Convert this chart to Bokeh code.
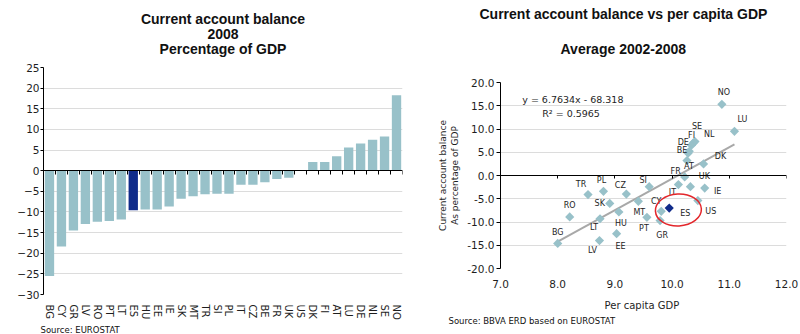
import math
from bokeh.plotting import figure
from bokeh.layouts import row
from bokeh.models import (ColumnDataSource, FixedTicker, LinearAxis, Range1d,
                          NumeralTickFormatter, Title, Label, CustomJSTickFormatter)
from bokeh.embed import file_html
from bokeh.resources import INLINE
from bokeh.core.properties import value

# ---------------- data ----------------
bar_countries = ["BG", "CY", "GR", "LV", "RO", "PT", "LT", "ES", "HU", "EE", "IE", "SK", "MT", "TR", "SI",
                 "PL", "IT", "CZ", "BE", "FR", "UK", "US", "DK", "FI", "AT", "LU", "DE", "NL", "SE", "NO"]
bar_values = [-25.5, -18.4, -14.5, -12.9, -12.4, -12.2, -11.8, -9.6, -9.4, -9.4, -8.7, -6.8, -6.2, -5.7, -5.6,
              -5.6, -3.4, -3.4, -2.8, -2.0, -1.7, 0.0, 2.1, 2.1, 3.5, 5.6, 6.6, 7.5, 8.3, 18.3]
highlight = "ES"
bar_yticks = list(range(-30, 26, 5))

sc_countries = ["BG", "RO", "TR", "PL", "SK", "LT", "LV", "HU", "EE", "CZ", "MT", "SI", "PT", "CY", "GR",
                "ES", "IT", "FR", "UK", "IE", "US", "NO", "LU", "SE", "NL", "FI", "DE", "BE", "AT", "DK"]
sc_gdp = [8.00, 8.21, 8.53, 8.80, 8.91, 8.74, 8.73, 9.07, 9.03, 9.20, 9.41, 9.60, 9.56, 9.81, 9.79,
          9.95, 10.11, 10.22, 10.32, 10.57, 10.45, 10.87, 11.09, 10.40, 10.37, 10.34, 10.30, 10.28, 10.26, 10.55]
sc_ca = [-14.6, -8.9, -4.1, -3.4, -6.0, -9.3, -14.0, -7.85, -12.5, -4.0, -5.55, -2.4, -9.0, -7.7, -9.7,
         -7.0, -1.95, -0.3, -2.4, -2.7, -5.4, 15.3, 9.5, 7.3, 7.0, 6.5, 5.2, 4.8, 3.2, 2.5]
trend_slope = 6.7634
trend_intercept = -68.318
trend_r2 = 0.5965
sc_xticks = [7, 8, 9, 10, 11, 12]
sc_yticks = list(range(-20, 21, 5))

# label placement (screen px offsets of each country label from its point)
label_dx = [0, 0, -7, -2, -10, -6, -7, 2, 4, -6, 1, -6, -3, -5, 2,
            16, -6, -9, 14, 13, 13, 2, 8, 2, 16, 0, -6, -6, 2, 17]
label_dy = [-11, -11, -10, -11, 0, 9, 10, 11, 13, -9, 11, -6, 11, -10, 15,
            5, 8, -5, -10, 3, 11, -12, -12, -15, -8, -10, -9, -3, 6, -7]

# ---------------- styles ----------------
TEAL = "#98C1C9"
NAVY = "#102B8A"
GRID = "#DCDCDC"
TXT = "#1E1E1E"
TITLE_FONT = "Liberation Sans"
FONT = "DejaVu Sans"
BLANK = CustomJSTickFormatter(code="return ''")


def title(text, size="14px", bold=True, align="center", offset=0, standoff=0, font=TITLE_FONT):
    return Title(text=text, align=align, offset=offset, standoff=standoff,
                 text_font=font, text_font_size=size,
                 text_font_style="bold" if bold else "normal", text_color="#111111")


def spacer(at, gap):
    # invisible axis used only to reserve vertical space between frame and titles
    return LinearAxis(ticker=FixedTicker(ticks=[at]), formatter=BLANK,
                      axis_line_color=None, major_tick_line_color="white",
                      major_tick_in=0, major_tick_out=gap, minor_tick_line_color=None,
                      major_label_standoff=0, major_label_text_font_size="1px",
                      major_label_text_color=None)


# ---------------- left: bar chart ----------------
n = len(bar_countries)
centers = [i + 0.5 for i in range(n)]
bar_src = ColumnDataSource(dict(
    x=centers, c=bar_countries, v=bar_values,
    col=[NAVY if c == highlight else TEAL for c in bar_countries]))

p1 = figure(width=415, height=334, title=None,
            x_range=Range1d(0, n),
            y_range=Range1d(bar_yticks[0], bar_yticks[-1]),
            output_backend="svg", toolbar_location=None,
            min_border_left=43, min_border_right=13, min_border_top=67, min_border_bottom=37)
p1.frame_align = False
p1.outline_line_color = None
p1.vbar(x="x", top="v", width=0.78, fill_color="col", line_color=None, source=bar_src)

xa = p1.xaxis[0]
xa.ticker = FixedTicker(ticks=centers)
xa.major_label_overrides = {cx: c for cx, c in zip(centers, bar_countries)}
xa.axis_line_color = None
xa.major_tick_line_color = None
xa.minor_tick_line_color = None
xa.major_label_orientation = "vertical"
xa.major_label_text_font = FONT
xa.major_label_text_font_size = "10px"
xa.major_label_text_color = TXT
xa.major_label_standoff = 4

ya = p1.yaxis[0]
ya.ticker = FixedTicker(ticks=bar_yticks)
ya.axis_line_color = "black"
ya.major_tick_line_color = "black"
ya.major_tick_in = 0
ya.major_tick_out = 3
ya.minor_tick_line_color = None
ya.major_label_text_font = FONT
ya.major_label_text_font_size = "10.5px"
ya.major_label_text_color = TXT
ya.major_label_standoff = 1

p1.xgrid.visible = False
p1.ygrid.grid_line_color = GRID
p1.ygrid.ticker = FixedTicker(ticks=bar_yticks)

zero_axis = LinearAxis(fixed_location=0,
                       ticker=FixedTicker(ticks=list(range(n + 1))), formatter=BLANK,
                       major_tick_in=0, major_tick_out=4,
                       minor_tick_line_color=None, axis_line_color="black",
                       major_tick_line_color="black")
p1.add_layout(zero_axis, "below")

p1.add_layout(spacer(n / 2, 11), "above")
p1.add_layout(title("Percentage of GDP"), "above")
p1.add_layout(title("2008"), "above")
p1.add_layout(title("Current account balance"), "above")
p1.add_layout(title("Source: EUROSTAT", size="8.5px", bold=False, align="left", offset=-3,
                    font=FONT), "below")

# ---------------- right: scatter ----------------
sc_src = ColumnDataSource(dict(
    c=sc_countries, x=sc_gdp, y=sc_ca, dx=label_dx, dy=label_dy,
    col=[NAVY if c == highlight else TEAL for c in sc_countries]))

p2 = figure(width=385, height=334, title=None,
            x_range=Range1d(sc_xticks[0], sc_xticks[-1]),
            y_range=Range1d(sc_yticks[0], sc_yticks[-1]),
            output_backend="svg", toolbar_location=None,
            min_border_left=85, min_border_right=14, min_border_top=82, min_border_bottom=66)
p2.frame_align = False
p2.outline_line_color = None
p2.xgrid.visible = False
p2.ygrid.grid_line_color = GRID
p2.ygrid.ticker = FixedTicker(ticks=sc_yticks)

xa2 = p2.xaxis[0]
xa2.ticker = FixedTicker(ticks=sc_xticks)
xa2.formatter = NumeralTickFormatter(format="0.0")
xa2.axis_line_color = None
xa2.major_tick_line_color = None
xa2.minor_tick_line_color = None
xa2.major_label_text_font = FONT
xa2.major_label_text_font_size = "10.5px"
xa2.major_label_text_color = TXT
xa2.major_label_standoff = 5
xa2.axis_label = "Per capita  GDP"
xa2.axis_label_standoff = 9
xa2.axis_label_text_font = FONT
xa2.axis_label_text_font_size = "10px"
xa2.axis_label_text_font_style = "normal"
xa2.axis_label_text_color = TXT

zero2 = LinearAxis(fixed_location=0, ticker=FixedTicker(ticks=sc_xticks), formatter=BLANK,
                   major_tick_in=0, major_tick_out=3,
                   minor_tick_line_color=None, axis_line_color="black", major_tick_line_color="black")
p2.add_layout(zero2, "below")

ya2 = p2.yaxis[0]
ya2.ticker = FixedTicker(ticks=sc_yticks)
ya2.formatter = NumeralTickFormatter(format="0.0")
ya2.axis_line_color = "black"
ya2.major_tick_line_color = "black"
ya2.major_tick_in = 0
ya2.major_tick_out = 4
ya2.minor_tick_line_color = None
ya2.major_label_text_font = FONT
ya2.major_label_text_font_size = "10.5px"
ya2.major_label_text_color = TXT
ya2.major_label_standoff = 2
ya2.axis_label = "Current account balance\nAs percentage of GDP"
ya2.axis_label_text_font = FONT
ya2.axis_label_text_font_size = "9px"
ya2.axis_label_text_font_style = "normal"
ya2.axis_label_text_color = TXT
ya2.axis_label_standoff = 4

# trend line from regression coefficients
tx = [min(sc_gdp), max(sc_gdp)]
ty = [trend_slope * v + trend_intercept for v in tx]
p2.line(tx, ty, line_color="#A8A8A8", line_width=2)

p2.scatter(x="x", y="y", marker="square", size=6.5, angle=math.pi / 4,
           fill_color="col", line_color=None, source=sc_src)
p2.text(x="x", y="y", text="c", x_offset="dx", y_offset="dy", source=sc_src,
        text_align="center", text_baseline="middle", text_font=value(FONT),
        text_font_size="8px", text_color=TXT)

es_i = sc_countries.index(highlight)
p2.ellipse(x=[sc_gdp[es_i] + 0.16], y=[sc_ca[es_i] - 0.41], width=46, height=32,
           width_units="screen", height_units="screen", angle=0.05,
           fill_color=None, line_color="#E3262B", line_width=1.5)

p2.add_layout(Label(x=7.38, y=16.4, text=f"y = {trend_slope}x - {abs(trend_intercept)}",
                    text_align="left", text_baseline="middle", text_font=FONT,
                    text_font_size="9.5px", text_color=TXT))
p2.add_layout(Label(x=7.73, y=13.3, text=f"R\u00b2  = {trend_r2}",
                    text_align="left", text_baseline="middle", text_font=FONT,
                    text_font_size="9.5px", text_color=TXT))

p2.add_layout(spacer(9.5, 8), "above")
p2.add_layout(title("Average 2002-2008", align="left", offset=60, standoff=35), "above")
p2.add_layout(title("Current account balance vs per capita GDP", align="left", offset=-21), "above")
p2.add_layout(title("Source: BBVA ERD based on EUROSTAT", size="8.5px", bold=False, align="left",
                    offset=-52, font=FONT), "below")

layout = row(p1, p2)
open("out.html", "w").write(file_html(layout, INLINE))
